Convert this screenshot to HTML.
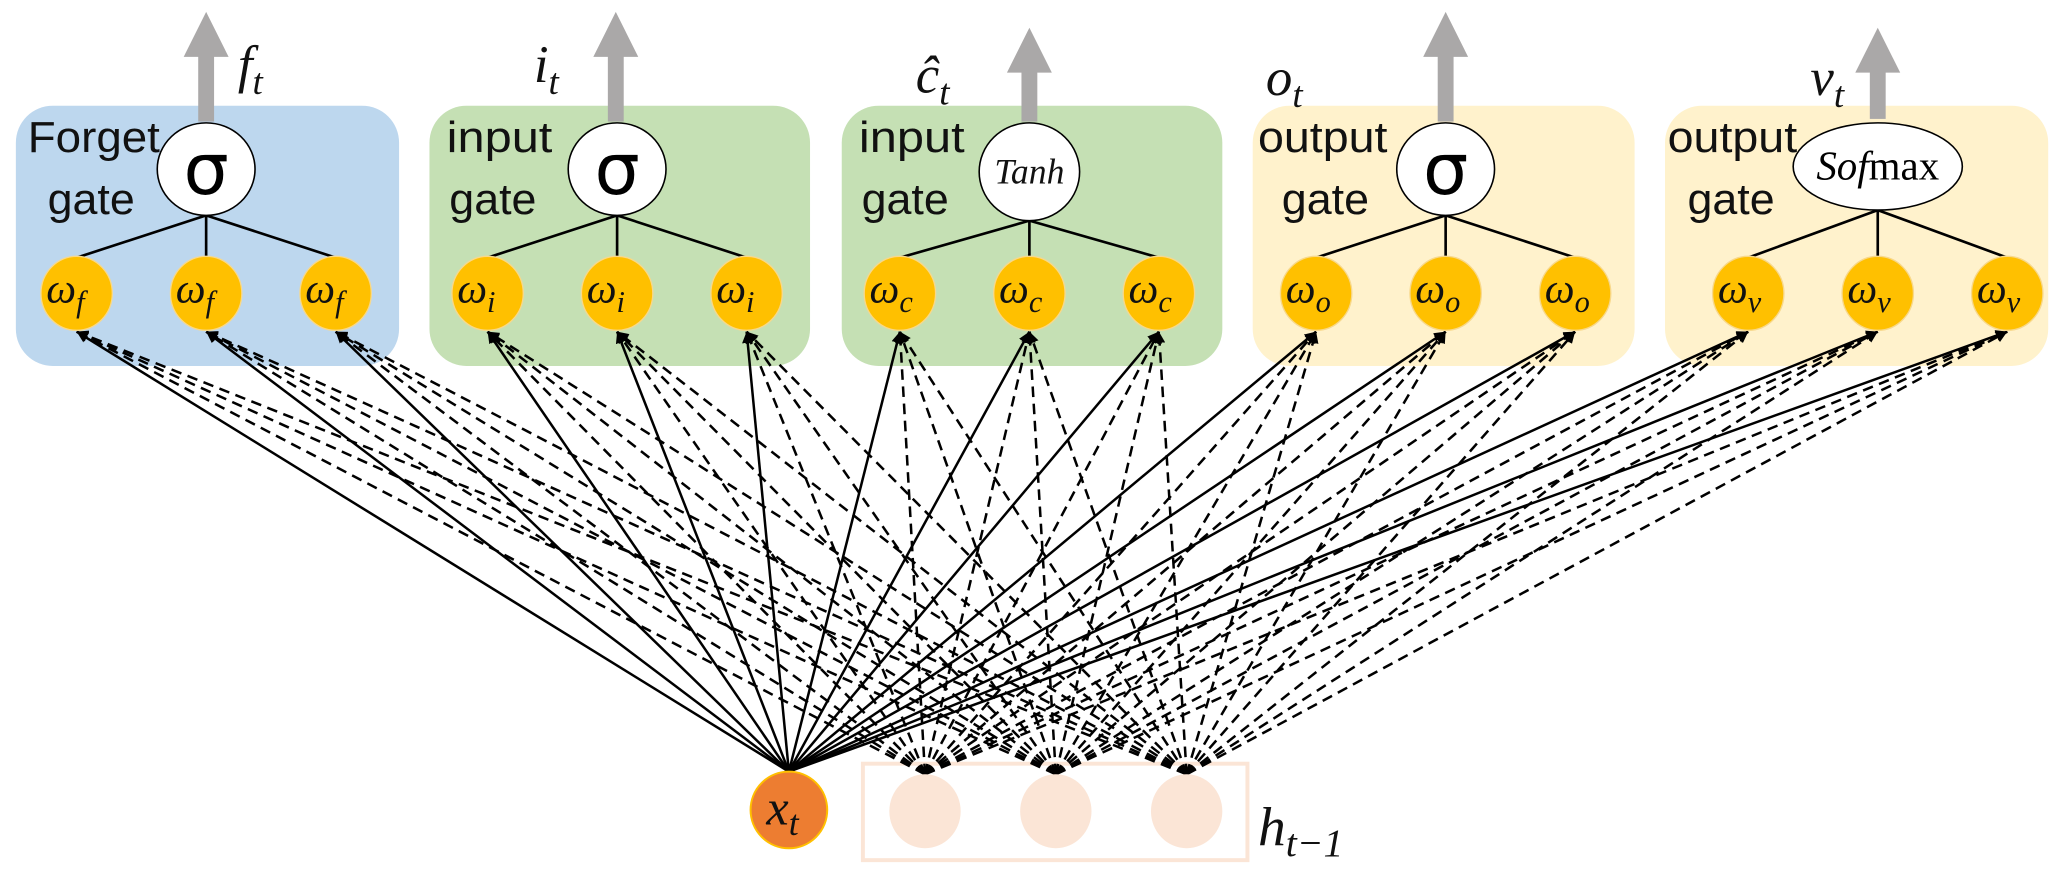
<!DOCTYPE html>
<html><head><meta charset="utf-8"><style>
html,body{margin:0;padding:0;background:#fff;width:2072px;height:876px;overflow:hidden}
svg{display:block}
.g{font-family:"Liberation Sans",sans-serif;font-size:33px;fill:#111}
.m{font-family:"Liberation Serif",serif;font-style:italic;fill:#111}
</style></head><body>
<svg width="2072" height="876" viewBox="0 0 1568 663" preserveAspectRatio="none" xmlns="http://www.w3.org/2000/svg">
<defs>
<marker id="ah" viewBox="0 0 10 10" refX="10" refY="5" markerWidth="4.5" markerHeight="4.5" orient="auto" markerUnits="strokeWidth">
<path d="M0,0 L10,5 L0,10 z" fill="#000"/></marker>
</defs>
<rect x="12" y="80" width="290" height="197" rx="28" fill="#bdd7ee"/>
<rect x="325" y="80" width="288" height="197" rx="28" fill="#c5e0b4"/>
<rect x="637" y="80" width="288" height="197" rx="28" fill="#c5e0b4"/>
<rect x="948" y="80" width="289" height="197" rx="28" fill="#fff2cc"/>
<rect x="1260" y="80" width="290" height="197" rx="28" fill="#fff2cc"/>
<rect x="653" y="578" width="291" height="73" fill="none" stroke="#fbe5d6" stroke-width="3"/>
<g id="lines" stroke="#000" stroke-width="1.9" fill="none"></g>
<g fill="#aaa8a8">
<rect x="150" y="40" width="12" height="52"/><path d="M139,43 L156,9 L173,43z"/>
<rect x="460" y="40" width="12" height="52"/><path d="M449,43 L466,9 L483,43z"/>
<rect x="773" y="52" width="12" height="40"/><path d="M762,55 L779,21 L796,55z"/>
<rect x="1088" y="40" width="12" height="52"/><path d="M1077,43 L1094,9 L1111,43z"/>
<rect x="1415" y="52" width="12" height="38"/><path d="M1404,55 L1421,21 L1438,55z"/>
</g>
<text class="m" x="180" y="62" font-size="40">f<tspan font-size="28" dy="9">t</tspan></text>
<text class="m" x="404" y="62" font-size="40">i<tspan font-size="28" dy="9">t</tspan></text>
<text class="m" x="693" y="70" font-size="40">ĉ<tspan font-size="28" dy="9">t</tspan></text>
<text class="m" x="958" y="72" font-size="40">o<tspan font-size="28" dy="9">t</tspan></text>
<text class="m" x="1370" y="72" font-size="40">v<tspan font-size="28" dy="9">t</tspan></text>
<text class="g" x="21" y="115" textLength="100" lengthAdjust="spacingAndGlyphs">Forget</text><text class="g" x="36" y="162" textLength="66" lengthAdjust="spacingAndGlyphs">gate</text>
<text class="g" x="338" y="115" textLength="80" lengthAdjust="spacingAndGlyphs">input</text><text class="g" x="340" y="162" textLength="66" lengthAdjust="spacingAndGlyphs">gate</text>
<text class="g" x="650" y="115" textLength="80" lengthAdjust="spacingAndGlyphs">input</text><text class="g" x="652" y="162" textLength="66" lengthAdjust="spacingAndGlyphs">gate</text>
<text class="g" x="952" y="115" textLength="98" lengthAdjust="spacingAndGlyphs">output</text><text class="g" x="970" y="162" textLength="66" lengthAdjust="spacingAndGlyphs">gate</text>
<text class="g" x="1262" y="115" textLength="98" lengthAdjust="spacingAndGlyphs">output</text><text class="g" x="1277" y="162" textLength="66" lengthAdjust="spacingAndGlyphs">gate</text>
<g id="trees" stroke="#000" stroke-width="2" fill="none"></g>
<g stroke="#000" stroke-width="1.2" fill="#fff">
<ellipse cx="156" cy="128" rx="37" ry="35"/>
<ellipse cx="467" cy="128" rx="37" ry="35"/>
<ellipse cx="779" cy="130" rx="38" ry="37"/>
<ellipse cx="1094" cy="128" rx="37" ry="35"/>
<ellipse cx="1421" cy="126" rx="64" ry="33"/>
</g>
<g font-family="DejaVu Sans,sans-serif" font-size="54" fill="#000" text-anchor="middle">
<text x="156" y="147">σ</text><text x="467" y="147">σ</text><text x="1094" y="147">σ</text></g>
<text class="m" x="779" y="139" font-size="27" text-anchor="middle">Tanh</text>
<text x="1421" y="136" font-size="31" font-family="Liberation Serif,serif" text-anchor="middle"><tspan font-style="italic">Sof</tspan>max</text>
<g id="w"></g>
<ellipse cx="597" cy="613" rx="29" ry="29" fill="#ed7d31" stroke="#ffc000" stroke-width="1.5"/>
<text class="m" x="580" y="624" font-size="38">x<tspan font-size="27" dy="8">t</tspan></text>
<ellipse cx="700" cy="614" rx="27" ry="28" fill="#fbe5d6"/>
<ellipse cx="799" cy="614" rx="27" ry="28" fill="#fbe5d6"/>
<ellipse cx="898" cy="614" rx="27" ry="28" fill="#fbe5d6"/>
<text class="m" x="952" y="640" font-size="42">h<tspan font-size="30" dy="8">t−1</tspan></text>
<script>
(function(){
var NS="http://www.w3.org/2000/svg";
var gates=[[156,128,35,"f"],[467,128,35,"i"],[779,130,37,"c"],[1094,128,35,"o"],[1421,126,33,"v"]];
var L=document.getElementById("lines"),T=document.getElementById("trees"),W=document.getElementById("w");
var bottoms=[[597,584,false],[700,586,true],[799,586,true],[898,586,true]];
gates.forEach(function(g){
 [-98,0,98].forEach(function(o){
  var x=g[0]+o;
  var t=document.createElementNS(NS,"line");
  t.setAttribute("x1",g[0]);t.setAttribute("y1",g[1]+g[2]);t.setAttribute("x2",x);t.setAttribute("y2",195);T.appendChild(t);
  bottoms.forEach(function(b){
   var l=document.createElementNS(NS,"line");
   l.setAttribute("x1",b[0]);l.setAttribute("y1",b[1]);l.setAttribute("x2",x);l.setAttribute("y2",251);
   if(b[2])l.setAttribute("stroke-dasharray","8 5");
   l.setAttribute("marker-end","url(#ah)");L.appendChild(l);
  });
  var e=document.createElementNS(NS,"ellipse");
  e.setAttribute("cx",x);e.setAttribute("cy",222);e.setAttribute("rx",27);e.setAttribute("ry",28);e.setAttribute("fill","#ffc000");
  e.setAttribute("stroke","#f8d88a");e.setAttribute("stroke-width","1");W.appendChild(e);
  var tx=document.createElementNS(NS,"text");
  tx.setAttribute("x",x-23);tx.setAttribute("y",229);tx.setAttribute("class","m");tx.setAttribute("font-size","32");
  tx.textContent="ω";
  var s=document.createElementNS(NS,"tspan");s.setAttribute("font-size","23");s.setAttribute("dy","7");s.textContent=g[3];tx.appendChild(s);
  W.appendChild(tx);
 });
});
})();
</script>
</svg>
</body></html>
